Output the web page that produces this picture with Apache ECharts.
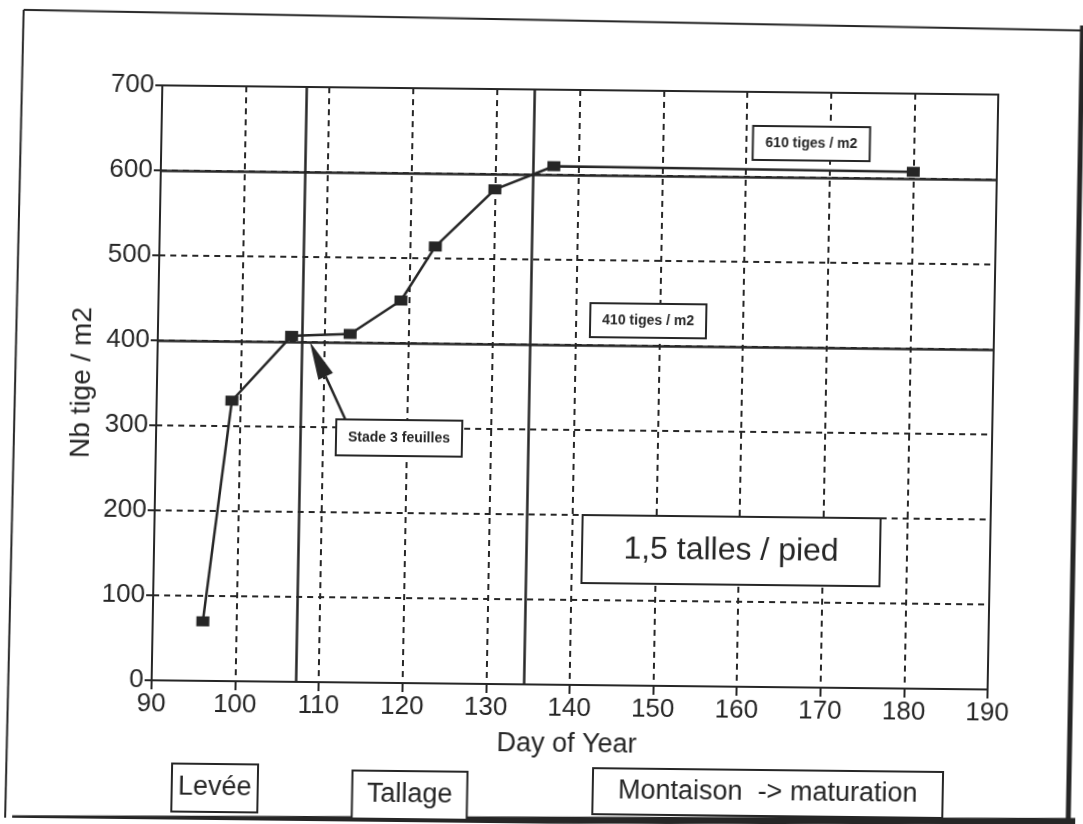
<!DOCTYPE html>
<html>
<head>
<meta charset="utf-8">
<title>Nb tige / m2</title>
<script src="https://cdn.jsdelivr.net/npm/echarts@6/dist/echarts.min.js"></script>
<style>
  html, body { margin: 0; padding: 0; background: #ffffff; overflow: hidden; }
  #chart {
    width: 1083px; height: 824px; background: #ffffff;
    /* the sheet sits slightly askew on the scanner bed */
    transform-origin: 575px 387px;
    transform: matrix(1, 0.011, -0.018, 1, 0, 0);
  }
</style>
</head>
<body>
<div id="chart"></div>
<script>
// Stem counts through the season
const days  = [96, 99, 106, 113, 119, 123, 130, 137, 180];
const stems = [70, 330, 407, 410, 450, 514, 582, 610, 608];

// Axis ranges
const xMin = 90, xMax = 190, xStep = 10;
const yMin = 0, yMax = 700, yStep = 100;

// Stage boundaries (day of year) and stem-density reference levels
const stageDays = [107.2, 134.5];
const refLevels = [400, 600];

// Texts
const yTitle = 'Nb tige / m2';
const xTitle = 'Day of Year';
const noteHigh = '610 tiges / m2';
const noteLow = '410 tiges / m2';
const noteStage = 'Stade 3 feuilles';
const noteRatio = '1,5 talles / pied';
const stageNames = ['Levée', 'Tallage', 'Montaison  -> maturation'];

const INK = '#262626';
const FONT = '"Liberation Sans", Arial, Helvetica, sans-serif';

const chart = echarts.init(document.getElementById('chart'), null, { renderer: 'canvas' });

const points = days.map((d, i) => [d, stems[i]]);

const markData = stageDays.map(d => ({ xAxis: d }))
  .concat(refLevels.map(v => ({ yAxis: v })));

chart.setOption({
  animation: false,
  backgroundColor: '#ffffff',
  grid: {
    left: 157, right: 90, top: 90, bottom: 139,
    show: true, borderColor: INK, borderWidth: 2, backgroundColor: 'transparent'
  },
  xAxis: {
    type: 'value', min: xMin, max: xMax, interval: xStep,
    axisLine: { show: true, lineStyle: { color: INK, width: 2 } },
    axisTick: { show: true, inside: false, length: 9, lineStyle: { color: INK, width: 2 } },
    axisLabel: { color: INK, fontFamily: FONT, fontSize: 26, margin: 11 },
    splitLine: { show: true, lineStyle: { color: INK, width: 2, type: [6, 5] } }
  },
  yAxis: {
    type: 'value', min: yMin, max: yMax, interval: yStep,
    axisLine: { show: true, lineStyle: { color: INK, width: 2 } },
    axisTick: { show: true, inside: false, length: 7, lineStyle: { color: INK, width: 2 } },
    axisLabel: { color: INK, fontFamily: FONT, fontSize: 26, margin: 8 },
    splitLine: { show: true, lineStyle: { color: INK, width: 2, type: [6, 5] } }
  },
  series: [{
    type: 'line',
    data: points,
    symbol: 'rect',
    symbolSize: [13, 10],
    itemStyle: { color: INK },
    lineStyle: { color: INK, width: 2.5 },
    z: 5,
    markLine: {
      silent: true,
      symbol: ['none', 'none'],
      label: { show: false },
      lineStyle: { color: INK, width: 2.5, type: 'solid' },
      data: markData
    }
  }]
});

// Boxed annotation helper: rectangle with centred text
function box(cx, cy, w, h, text, size, extra) {
  return {
    type: 'group',
    children: [
      { type: 'rect', shape: { x: cx - w / 2, y: cy - h / 2, width: w, height: h },
        style: { fill: '#ffffff', stroke: INK, lineWidth: (extra && extra.lw) || 2 }, z: 20 },
      { type: 'text', x: cx, y: cy,
        style: { text: text, fill: INK, font: ((extra && extra.weight) || 'normal') + ' ' + size + 'px ' + FONT,
                 align: 'center', verticalAlign: 'middle' }, z: 21 }
    ]
  };
}

// Arrow from the stage note to the 3-leaf point on the first boundary
const tip = chart.convertToPixel({ gridIndex: 0 }, [108.2, 400]);
const tail = [346, 422];
const ang = Math.atan2(tip[1] - tail[1], tip[0] - tail[0]);
const headLen = 38, headHalf = 8;
const base = [tip[0] - headLen * Math.cos(ang), tip[1] - headLen * Math.sin(ang)];
const nx = -Math.sin(ang), ny = Math.cos(ang);

chart.setOption({
  graphic: [
    // sheet frame
    { type: 'line', shape: { x1: 17, y1: 16, x2: 1076, y2: 25 }, style: { stroke: INK, lineWidth: 2 }, z: 1 },
    { type: 'line', shape: { x1: 17, y1: 16, x2: 13, y2: 826 }, style: { stroke: INK, lineWidth: 2 }, z: 1 },
    { type: 'line', shape: { x1: 1076, y1: 20, x2: 1076, y2: 830 }, style: { stroke: INK, lineWidth: 5 }, z: 1 },
    { type: 'line', shape: { x1: 20, y1: 825, x2: 1090, y2: 816 }, style: { stroke: INK, lineWidth: 7 }, z: 1 },

    // axis titles
    { type: 'text', x: 82, y: 388, rotation: Math.PI / 2,
      style: { text: yTitle, fill: INK, font: '28px ' + FONT, align: 'center', verticalAlign: 'middle' } },
    { type: 'text', x: 573, y: 745,
      style: { text: xTitle, fill: INK, font: '27px ' + FONT, align: 'center', verticalAlign: 'middle' } },

    // notes inside the plot
    box(807, 141, 117, 34, noteHigh, 14, { weight: 'bold' }),
    box(647, 320, 116, 34, noteLow, 14, { weight: 'bold' }),
    box(400, 440, 126, 36, noteStage, 14, { weight: 'bold' }),
    box(734, 549, 298, 68, noteRatio, 32),

    // arrow
    { type: 'line', shape: { x1: tail[0], y1: tail[1], x2: base[0], y2: base[1] },
      style: { stroke: INK, lineWidth: 2.5 }, z: 22 },
    { type: 'polygon', shape: { points: [
        tip,
        [base[0] + nx * headHalf, base[1] + ny * headHalf],
        [base[0] - nx * headHalf, base[1] - ny * headHalf]
      ] }, style: { fill: INK }, z: 22 },

    // growth stages under the axis
    box(222, 792, 86, 48, stageNames[0], 27),
    box(417, 797, 115, 48, stageNames[1], 27),
    box(775, 791, 350, 46, stageNames[2], 27)
  ]
});
</script>
</body>
</html>
